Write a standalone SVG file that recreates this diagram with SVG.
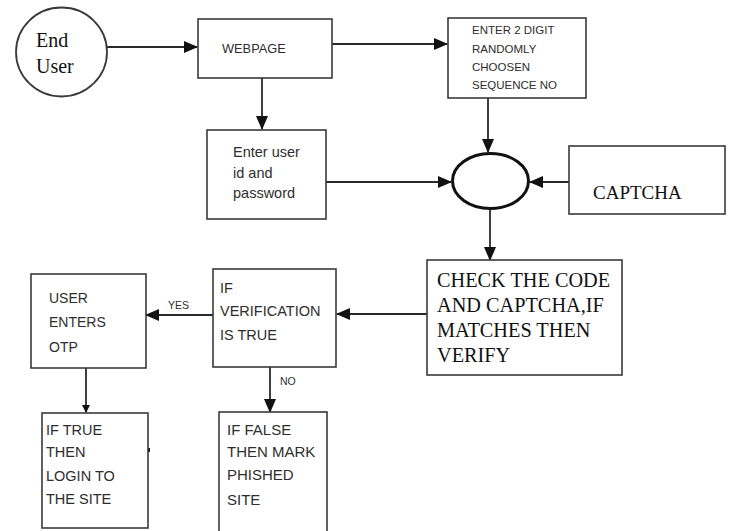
<svg xmlns="http://www.w3.org/2000/svg" width="730" height="531" viewBox="0 0 730 531">
  <style>
    .box { fill: #ffffff; stroke: #3a3a3a; stroke-width: 1.6; }
    .edge { fill: none; stroke: #2a2a2a; stroke-width: 1.8; }
    .sans { font-family: "Liberation Sans", Arial, sans-serif; fill: #2e2e2e; }
    .serif { font-family: "Liberation Serif", "Times New Roman", serif; fill: #111111; }
  </style>
  <defs>
    <marker id="arrow" markerUnits="userSpaceOnUse" markerWidth="14" markerHeight="12" viewBox="0 0 14 12" refX="13" refY="6" orient="auto">
      <path d="M0,0 L14,6 L0,12 Z" fill="#111111"/>
    </marker>
    <marker id="arrowSmall" markerUnits="userSpaceOnUse" markerWidth="8" markerHeight="8" viewBox="0 0 8 8" refX="7" refY="4" orient="auto">
      <path d="M0,0 L8,4 L0,8 Z" fill="#111111"/>
    </marker>
  </defs>
  <rect width="730" height="531" fill="#ffffff"/>

  <!-- connectors -->
  <g id="connectors">
    <line class="edge" x1="107" y1="47" x2="197" y2="47" marker-end="url(#arrow)"/>
    <line class="edge" x1="332" y1="44" x2="447" y2="44" marker-end="url(#arrow)"/>
    <line class="edge" x1="262" y1="78" x2="262" y2="129" marker-end="url(#arrow)"/>
    <line class="edge" x1="488" y1="98" x2="488" y2="152" marker-end="url(#arrow)"/>
    <line class="edge" x1="326" y1="182" x2="451" y2="182" marker-end="url(#arrow)"/>
    <line class="edge" x1="569" y1="182" x2="530" y2="182" marker-end="url(#arrow)"/>
    <line class="edge" x1="490" y1="209" x2="490" y2="260" marker-end="url(#arrow)"/>
    <line class="edge" x1="427" y1="314" x2="337" y2="314" marker-end="url(#arrow)"/>
    <line class="edge" x1="213" y1="315" x2="146" y2="315" marker-end="url(#arrow)"/>
    <line class="edge" x1="270" y1="367" x2="270" y2="412" marker-end="url(#arrow)"/>
    <line class="edge" x1="86" y1="368" x2="86" y2="412" marker-end="url(#arrowSmall)"/>
    <text class="sans" x="168" y="309" font-size="10.5">YES</text>
    <text class="sans" x="280" y="385" font-size="10.5">NO</text>
  </g>

  <g id="end-user">
    <ellipse cx="61.5" cy="52" rx="45.5" ry="44.5" fill="#ffffff" stroke="#3a3a3a" stroke-width="1.8"/>
    <text class="serif" x="36" y="47" font-size="20">End</text>
    <text class="serif" x="36" y="73" font-size="20">User</text>
  </g>

  <g id="webpage">
    <rect class="box" x="198" y="19" width="134" height="59"/>
    <text class="sans" x="222" y="53" font-size="12.8">WEBPAGE</text>
  </g>

  <g id="sequence">
    <rect class="box" x="448" y="18" width="138" height="80"/>
    <text class="sans" x="472" y="34" font-size="11.5">ENTER 2 DIGIT</text>
    <text class="sans" x="472" y="53" font-size="11.5">RANDOMLY</text>
    <text class="sans" x="472" y="71" font-size="11.5">CHOOSEN</text>
    <text class="sans" x="472" y="89" font-size="11.5">SEQUENCE NO</text>
  </g>

  <g id="credentials">
    <rect class="box" x="207" y="130" width="119" height="89"/>
    <text class="sans" x="233" y="157" font-size="14.5">Enter user</text>
    <text class="sans" x="233" y="178" font-size="14.5">id and</text>
    <text class="sans" x="233" y="198" font-size="14.5">password</text>
  </g>

  <g id="junction">
    <ellipse cx="490.5" cy="181" rx="38" ry="27.5" fill="#ffffff" stroke="#111111" stroke-width="3"/>
  </g>

  <g id="captcha">
    <rect class="box" x="569" y="146" width="156" height="68"/>
    <text class="serif" x="593" y="199" font-size="19">CAPTCHA</text>
  </g>

  <g id="check">
    <rect class="box" x="427" y="260" width="195" height="115"/>
    <text class="serif" x="437" y="287" font-size="20.3">CHECK THE CODE</text>
    <text class="serif" x="437" y="312" font-size="20.3">AND CAPTCHA,IF</text>
    <text class="serif" x="437" y="337" font-size="20.3">MATCHES THEN</text>
    <text class="serif" x="437" y="362" font-size="20.3">VERIFY</text>
  </g>

  <g id="verification">
    <rect class="box" x="213" y="269" width="123" height="98"/>
    <text class="sans" x="220" y="293" font-size="14.5">IF</text>
    <text class="sans" x="220" y="316" font-size="14.5">VERIFICATION</text>
    <text class="sans" x="220" y="340" font-size="14.5">IS TRUE</text>
  </g>

  <g id="otp">
    <rect class="box" x="31" y="274" width="115" height="94"/>
    <text class="sans" x="49" y="303" font-size="14">USER</text>
    <text class="sans" x="49" y="327" font-size="14">ENTERS</text>
    <text class="sans" x="49" y="352" font-size="14">OTP</text>
  </g>

  <g id="login">
    <rect class="box" x="42" y="413" width="106" height="115"/>
    <text class="sans" x="46" y="435" font-size="14.5">IF TRUE</text>
    <text class="sans" x="46" y="457" font-size="14.5">THEN</text>
    <text class="sans" x="46" y="481" font-size="14.5">LOGIN TO</text>
    <text class="sans" x="46" y="504" font-size="14.5">THE SITE</text>
    <rect x="148" y="448" width="2" height="4" fill="#222222"/>
  </g>

  <g id="phished">
    <rect class="box" x="219" y="412" width="108" height="125"/>
    <text class="sans" x="227" y="435" font-size="15">IF FALSE</text>
    <text class="sans" x="227" y="457" font-size="15">THEN MARK</text>
    <text class="sans" x="227" y="480" font-size="15">PHISHED</text>
    <text class="sans" x="227" y="505" font-size="15">SITE</text>
  </g>
</svg>
